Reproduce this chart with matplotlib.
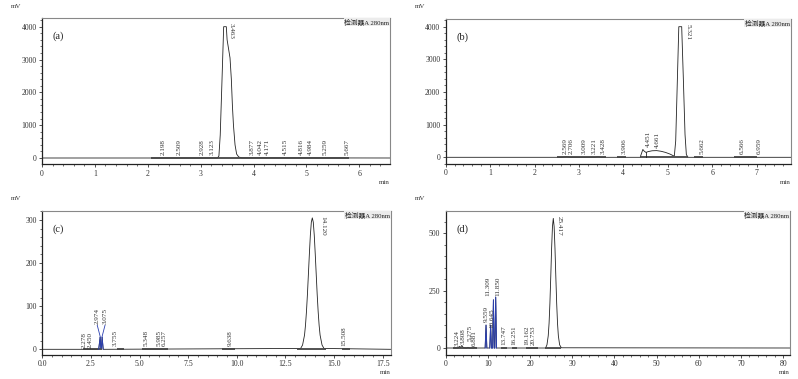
import matplotlib
matplotlib.use('Agg')
import matplotlib.pyplot as plt
from matplotlib.ticker import MultipleLocator, FormatStrFormatter
import matplotlib.transforms as mtransforms
import numpy as np

plt.rcParams['font.family'] = ['Liberation Serif', 'Noto Sans CJK SC']

# ---- (a) ----
a_time = [0.0, 3.30, 3.32, 3.345, 3.37, 3.40, 3.435, 3.485, 3.50, 3.53, 3.555,
          3.58, 3.60, 3.62, 3.65, 3.68, 3.72, 3.78, 6.58]
a_mv = [0, 0, 5, 60, 700, 2200, 4000, 4000, 3600, 3300, 3050,
        2400, 1600, 1000, 400, 120, 30, 5, 0]
a_peaks = ['2.198', '2.509', '2.928', '3.123', '3.463', '3.877', '4.042',
           '4.171', '4.515', '4.816', '4.984', '5.259', '5.667']
a_base = [(2.07, 5.81)]

# ---- (b) ----
b_time = [0.0, 2.62, 2.72, 2.82, 3.36, 3.43, 3.50, 4.38, 4.41, 4.44, 4.47, 4.51,
          4.56, 4.65, 4.75, 4.85, 4.95, 5.05, 5.13, 5.15, 5.18, 5.21, 5.25, 5.315,
          5.35, 5.39, 5.42, 5.46, 7.77]
b_mv = [0, 0, 15, 0, 0, 12, 0, 0, 120, 240, 190, 150,
        175, 200, 205, 185, 150, 100, 45, 50, 500, 2000, 4000, 4000,
        2500, 700, 80, 0, 0]
b_peaks = ['2.569', '2.706', '3.009', '3.221', '3.428', '3.906', '4.451',
           '4.661', '5.321', '5.662', '6.566', '6.959']
b_base = [(2.5, 3.6), (3.85, 4.05), (4.38, 5.46), (5.6, 5.8), (6.5, 7.0)]
b_drops = [4.52]

# ---- (c) ----
c_time = [0.0, 2.90, 2.974, 3.01, 3.04, 3.075, 3.13,
          13.28, 13.38, 13.48, 13.53, 13.58, 13.63, 13.68, 13.73, 13.78, 13.83,
          13.88, 13.93, 13.98, 14.03, 14.08, 14.13, 14.18, 14.23, 14.28, 14.38,
          14.48, 17.91]
c_mv = [0, 0, 28, 3, 3, 28, 0,
        2, 10, 33, 56, 88, 128, 175, 222, 265, 295,
        305, 295, 265, 222, 175, 128, 88, 56, 33, 10,
        2, 0]
c_peaks = ['2.278', '2.450', '2.974', '3.075', '3.755', '5.348', '5.985',
           '6.257', '9.638', '14.120', '15.508']
c_base = [(2.1, 3.05), (3.82, 4.2), (5.1, 5.74), (5.74, 6.47), (9.22, 9.9),
          (13.1, 14.6), (15.4, 15.8)]
c_blue = [(2.90, 3.13)]
c_lift = {'2.278': (-0.12, 4), '2.450': (0.0, 4),
          '2.974': (-0.15, 58), '3.075': (0.15, 58)}

# ---- (d) ----
d_time = [0.0, 2.9, 3.224, 3.5, 3.808, 4.2, 5.0, 5.275, 5.6, 6.6, 6.881, 7.2,
          9.35, 9.559, 9.75, 10.45, 10.645, 10.85, 11.12, 11.309, 11.5, 11.65,
          11.85, 12.05, 23.6, 23.7, 24.0, 24.3, 24.5, 24.7, 24.9, 25.1, 25.3,
          25.5, 25.7, 25.9, 26.1, 26.3, 26.5, 26.7, 27.0, 27.4, 81.6]
d_mv = [0, 0, 7, 2, 11, 1, 0, 3, 0, 0, 3, 0,
        0, 100, 0, 0, 100, 0, 0, 210, 0, 0,
        222, 0, 0, 1, 14, 53, 108, 196, 311, 434, 529,
        565, 529, 434, 311, 196, 108, 53, 14, 1, 0]
d_peaks = ['3.224', '3.808', '5.275', '6.881', '9.559', '10.645', '11.309',
           '11.850', '13.747', '16.251', '19.162', '20.753', '25.417']
d_base = [(1.8, 7.3), (13.2, 14.5), (15.8, 17.0), (19.0, 21.8), (23.5, 27.4)]
d_blue = [(9.35, 9.75), (10.45, 10.85), (11.12, 11.5), (11.65, 12.05)]
d_lift = {'3.224': (-0.5, 10), '3.808': (0.3, 18), '5.275': (0.5, 30),
          '6.881': (0.0, 10), '9.559': (0.0, 112), '10.645': (0.2, 86),
          '11.309': (-1.4, 228), '11.850': (0.5, 228)}

W, H = 798, 379
fig = plt.figure(figsize=(W / 100, H / 100), dpi=100)


def draw_panel(box, tag, t, mv, peaks, base, xlim, ylim, xmaj, xmin_, ymaj, ymin_,
               xfmt='%d', dx=5, blue=(), lift=None, leaders=(), drops=()):
    l, r, top, bot = box
    ax = fig.add_axes([l / W, 1 - bot / H, (r - l) / W, (bot - top) / H])
    t = np.array(t, float)
    mv = np.array(mv, float)
    ax.plot(t, mv, color='#222222', lw=0.6)
    for lo, hi in base:
        ax.plot([lo, hi], [0, 0], color='#444444', lw=1.3, solid_capstyle='butt')
    for lo, hi in blue:
        m = (t >= lo) & (t <= hi)
        ax.plot(t[m], mv[m], color='#2b3fb0', lw=0.7)
    for d in drops:
        ax.plot([d, d], [0, np.interp(d, t, mv)], color='#222222', lw=0.6)

    ax.set_xlim(*xlim)
    ax.set_ylim(*ylim)
    ax.xaxis.set_major_locator(MultipleLocator(xmaj))
    ax.xaxis.set_minor_locator(MultipleLocator(xmin_))
    ax.yaxis.set_major_locator(MultipleLocator(ymaj))
    ax.yaxis.set_minor_locator(MultipleLocator(ymin_))
    ax.xaxis.set_major_formatter(FormatStrFormatter(xfmt))
    ax.tick_params(which='major', direction='out', length=2.4, width=0.6,
                   labelsize=5.6, pad=1.5, colors='#333333')
    ax.tick_params(which='minor', direction='out', length=1.2, width=0.5,
                   colors='#333333')
    for s in ('left', 'bottom'):
        ax.spines[s].set_linewidth(0.9)
        ax.spines[s].set_color('#222222')
    for s in ('top', 'right'):
        ax.spines[s].set_linewidth(0.8)
        ax.spines[s].set_color('#888888')

    span = xlim[1] - xlim[0]
    for p in peaks:
        rt = float(p)
        win = np.linspace(rt - 0.012 * span, rt + 0.012 * span, 25)
        yc = np.interp(win, t, mv).max()
        if yc > 0.5 * ylim[1]:
            tr = mtransforms.blended_transform_factory(ax.transData, ax.transAxes)
            ax.annotate(p, xy=(rt, 0.965), xycoords=tr, xytext=(6, 0),
                        textcoords='offset pixels', rotation=270, ha='center',
                        va='top', fontsize=5.1, color='#333333')
        elif lift and p in lift:
            ddx, ly = lift[p]
            if p in leaders:
                ax.plot([rt + ddx, rt, rt], [ly - 2, yc + 2, yc],
                        color='#2b3fb0', lw=0.6)
            ax.annotate(p, xy=(rt + ddx, ly), xytext=(0, 0),
                        textcoords='offset pixels', rotation=90, ha='center',
                        va='bottom', fontsize=5.1, color='#333333')
        else:
            ax.annotate(p, xy=(rt, yc), xytext=(dx, 3),
                        textcoords='offset pixels', rotation=90, ha='center',
                        va='bottom', fontsize=5.1, color='#333333')

    ax.text(0.998, 0.994, '检测器A 280nm', transform=ax.transAxes, ha='right',
            va='top', fontsize=4.9, color='#222222',
            bbox=dict(facecolor='#ececec', edgecolor='none', pad=0.4))
    ax.text(0.03, 0.875, tag, transform=ax.transAxes, ha='left', va='center',
            fontsize=7.5, color='#222222')
    ax.annotate('mV', xy=(0, 1), xycoords='axes fraction', xytext=(-31, 12),
                textcoords='offset pixels', ha='left', va='center', fontsize=5,
                color='#333333')
    ax.annotate('min', xy=(1, 0), xycoords='axes fraction', xytext=(0, -18),
                textcoords='offset pixels', ha='right', va='center', fontsize=5,
                color='#333333')
    return ax


draw_panel((42, 390, 18, 164.3), '(a)', a_time, a_mv, a_peaks, a_base,
           (0, 6.58), (-192, 4265), 1, 0.2, 1000, 200)
draw_panel((445.7, 790.7, 19, 164), '(b)', b_time, b_mv, b_peaks, b_base,
           (0, 7.77), (-205, 4236), 1, 0.2, 1000, 200, drops=b_drops)
draw_panel((42.3, 390.7, 210.7, 355), '(c)', c_time, c_mv, c_peaks, c_base,
           (0, 17.91), (-13.2, 321.6), 2.5, 0.5, 100, 20, xfmt='%.1f', dx=0,
           blue=c_blue, lift=c_lift, leaders=('2.974', '3.075'))
draw_panel((445.7, 790, 210.7, 355), '(d)', d_time, d_mv, d_peaks, d_base,
           (0, 81.6), (-30.5, 598.5), 10, 2, 250, 50, dx=0, blue=d_blue,
           lift=d_lift)

fig.savefig('out.png', dpi=100, facecolor='white')
